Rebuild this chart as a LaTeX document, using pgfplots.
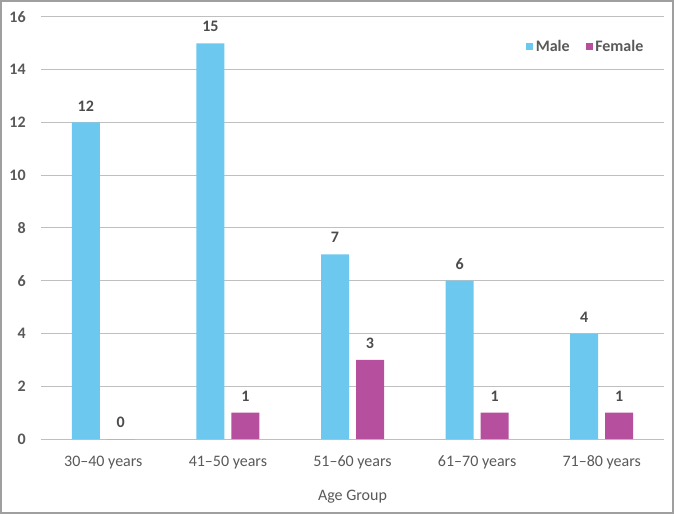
\documentclass[border=0pt]{standalone}
\usepackage{pgfplots}
\pgfplotsset{compat=1.18}
\usepackage{fontspec}
\setmainfont{Carlito}
\definecolor{male}{HTML}{6DC8F0}
\definecolor{female}{HTML}{B6509E}
\definecolor{txt}{HTML}{595959}
\definecolor{grid}{HTML}{D9D9D9}
\begin{document}
\begin{tikzpicture}
\useasboundingbox (0,0) rectangle (505.5pt,385.5pt);
\fill[white] (0,0) rectangle (505.5pt,385.5pt);
\begin{axis}[
  at={(30.75pt,56.25pt)}, anchor=south west,
  scale only axis, width=467.25pt, height=316.5pt,
  ybar=5.25pt, bar width=21pt,
  xmin=-0.5, xmax=4.5, ymin=0, ymax=16,
  xtick={0,1,2,3,4},
  xticklabels={30--40 years,41--50 years,51--60 years,61--70 years,71--80 years},
  ytick={0,2,...,16},
  xtick pos=bottom, ytick pos=left,
  ymajorgrids, xmajorgrids=false, grid style={grid, line width=0.75pt},
  axis line style={draw=none},
  major tick length=0pt,
  tick style={draw=none},
  /pgf/number format/assume math mode=true,
  yticklabel style={font=\fontsize{12}{14}\selectfont\bfseries, text=txt, xshift=-8pt},
  xticklabel style={font=\fontsize{12}{14}\selectfont, text=txt, yshift=-9pt},
  xlabel={Age Group},
  xlabel style={font=\fontsize{12}{14}\selectfont, text=txt, yshift=-9pt},
  nodes near coords,
  every node near coord/.append style={font=\fontsize{12}{14}\selectfont\bfseries, text=txt!85!black, yshift=5pt},
  legend style={draw=none, fill=none, at={(0.978,0.958)}, anchor=north east,
    font=\fontsize{12}{14}\selectfont\bfseries, text=txt, legend columns=2,
    /tikz/every even column/.append style={column sep=10pt}},
  legend image code/.code={\fill[#1] (0pt,-2.6pt) rectangle (5.2pt,2.6pt);},
]
\addplot[fill=male, draw=none] coordinates {(0,12) (1,15) (2,7) (3,6) (4,4)};
\addplot[fill=female, draw=none] coordinates {(0,0) (1,1) (2,3) (3,1) (4,1)};
\legend{Male, Female}
\end{axis}
\draw[gray!75, line width=1.5pt] (0.75pt,0.75pt) rectangle (504.75pt,384.75pt);
\end{tikzpicture}
\end{document}
